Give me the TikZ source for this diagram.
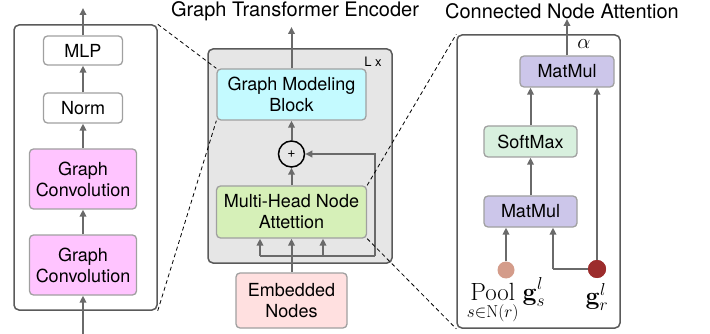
\documentclass[tikz,border=0pt]{standalone}
\usepackage[no-math]{fontspec}
\setmainfont{TeX Gyre Heros}
\usepackage{amsmath}
\usetikzlibrary{arrows.meta}
\definecolor{arr}{HTML}{6A6A6A}
\definecolor{bord}{HTML}{A0A0A0}
\definecolor{panelb}{HTML}{5A5A5A}
\definecolor{pinkc}{HTML}{FFC4FF}
\definecolor{cyanc}{HTML}{C4FAFF}
\definecolor{greenc}{HTML}{D6F0B8}
\definecolor{embc}{HTML}{FFE0E0}
\definecolor{lavc}{HTML}{CCC6EA}
\definecolor{smc}{HTML}{D8F0DE}
\definecolor{grayb}{HTML}{E6E6E6}
\definecolor{poolc}{HTML}{D49C8A}
\definecolor{grc}{HTML}{9C2C2C}
\tikzset{
  blk/.style={draw=bord, line width=1.3pt, rounded corners=4pt, align=center, inner sep=0pt,
    font=\fontsize{18}{21}\selectfont},
  panel/.style={draw=panelb, line width=1.5pt, rounded corners=5pt, inner sep=0pt},
  arrowline/.style={draw=arr, line width=2pt, -{Triangle[length=7pt,width=6.5pt]}},
  plainline/.style={draw=arr, line width=2pt},
  dashline/.style={draw=black, line width=0.8pt, dash pattern=on 4pt off 3pt},
  title/.style={font=\fontsize{20}{22}\selectfont, inner sep=0pt},
  dot/.style={circle, inner sep=0pt}
}
\begin{document}
\begin{tikzpicture}[x=1pt,y=-1pt]
\useasboundingbox (0,0) rectangle (710,334);
% ---------- left panel ----------
\node[panel, fill=white, minimum width=143pt, minimum height=285pt] (lp) at (85.5,167.5) {};
\node[blk, fill=white, minimum width=79pt, minimum height=29pt] (mlp) at (83,50.5) {MLP};
\node[blk, fill=white, minimum width=79pt, minimum height=30pt] (norm) at (83,108) {Norm};
\node[blk, fill=pinkc, minimum width=107pt, minimum height=60pt] (gc1) at (83,179) {Graph\\Convolution};
\node[blk, fill=pinkc, minimum width=107pt, minimum height=60pt] (gc2) at (83,265) {Graph\\Convolution};
\coordinate (ltop) at (83,8);
\coordinate (lbot) at (83,334);
\draw[arrowline] (mlp.north) -- (ltop);
\draw[arrowline] (norm.north) -- (mlp.south);
\draw[arrowline] (gc1.north) -- (norm.south);
\draw[arrowline] (gc2.north) -- (gc1.south);
\draw[arrowline] (lbot) -- (gc2.south);
% ---------- middle ----------
\node[title] (t1) at (295,11) {Graph Transformer Encoder};
\node[panel, fill=grayb, minimum width=184pt, minimum height=214pt] (enc) at (300,156) {};
\node[font=\fontsize{13}{15}\selectfont, inner sep=0pt] (lx) at (373,62) {L x};
\node[blk, fill=cyanc, minimum width=149pt, minimum height=51pt] (gmb) at (291.5,94.5) {Graph Modeling\\Block};
\node[circle, draw=black, line width=1.5pt, minimum size=26pt, inner sep=0pt, font=\fontsize{14}{14}\selectfont] (plus) at (291.5,154) {+};
\node[blk, fill=greenc, minimum width=150pt, minimum height=52pt] (mhna) at (291.5,212) {Multi-Head Node\\Attettion};
\node[blk, fill=embc, minimum width=111pt, minimum height=55pt] (emb) at (291.5,300.5) {Embedded\\Nodes};
\coordinate (mtop) at (291.5,27);
\coordinate (bl) at (260,256);
\coordinate (bm) at (291.5,256);
\coordinate (br) at (323,256);
\coordinate (brr) at (375,256);
\coordinate (brt) at (375,154);
\draw[arrowline] (gmb.north) -- (mtop);
\draw[arrowline] (plus.north) -- (gmb.south);
\draw[arrowline] (mhna.north) -- (plus.south);
\draw[plainline] (emb.north) -- (bm);
\draw[plainline, line join=miter] (bl) -- (brr);
\draw[arrowline] (bl) -- (bl |- mhna.south);
\draw[arrowline] (bm) -- (mhna.south);
\draw[arrowline] (br) -- (br |- mhna.south);
\draw[arrowline] (brr) -- (brt) -- (plus.east);
% ---------- right panel ----------
\node[title] (t2) at (562,11) {Connected Node Attention};
\node[panel, fill=white, minimum width=163pt, minimum height=293pt] (rp) at (538.5,181.5) {};
\node[blk, fill=lavc, minimum width=94pt, minimum height=31pt] (mm1) at (567,71.5) {MatMul};
\node[blk, fill=smc, minimum width=93pt, minimum height=31pt] (sm) at (530.5,141.5) {SoftMax};
\node[blk, fill=lavc, minimum width=93pt, minimum height=31pt] (mm2) at (530.5,211.5) {MatMul};
\coordinate (rtop) at (567,19);
\coordinate (gcorner) at (553,269);
\node[inner sep=0pt, font=\fontsize{22}{22}\selectfont] (alpha) at (584,44) {$\alpha$};
\draw[arrowline] (mm1.north) -- (rtop);
\draw[arrowline] (sm.north) -- (sm.north |- mm1.south);
\draw[arrowline] (mm2.north) -- (sm.south);
\node[dot, fill=poolc, minimum size=17pt] (pool) at (506,270) {};
\node[dot, fill=grc, minimum size=18pt] (gr) at (597,269) {};
\draw[arrowline] (pool.north) -- (pool.north |- mm2.south);
\draw[plainline] (gr.center) -- (gcorner);
\draw[arrowline] (gcorner) -- (gcorner |- mm2.south);
\draw[arrowline] (gr.north) -- (gr.north |- mm1.south);
\node[dot, fill=grc, minimum size=18pt] at (gr) {};
\node[inner sep=0pt, font=\fontsize{26}{29}\selectfont] (pooll) at (506,301) {$\displaystyle\operatorname*{Pool}_{s\in\mathrm{N}(r)}\mathbf{g}_s^l$};
\node[inner sep=0pt, font=\fontsize{26}{29}\selectfont] (grl) at (597,297) {$\mathbf{g}_r^l$};
% ---------- dashed zoom lines ----------
\draw[dashline] (lp.north east) -- (gmb.north west);
\draw[dashline] (lp.south east) -- (gmb.south west);
\draw[dashline] (mhna.north east) -- (rp.north west);
\draw[dashline] (mhna.south east) -- (rp.south west);
\end{tikzpicture}
\end{document}
